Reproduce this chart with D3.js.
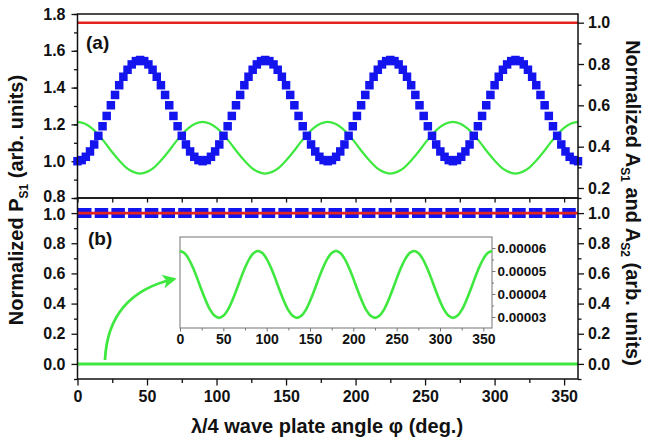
<!DOCTYPE html>
<html><head><meta charset="utf-8">
<script src="https://cdn.jsdelivr.net/npm/d3@7"></script>
<style>
body{margin:0;background:#fff;}
svg text{font-family:"Liberation Sans",Arial,sans-serif;font-weight:bold;fill:#111;}
</style></head>
<body>
<svg id="c" width="646" height="445"></svg>
<script>
// ---------- data ----------
// measurement angles for the P_S1 squares (3 deg steps)
const anglesP = [0,3,6,9,12,15,18,21,24,27,30,33,36,39,42,45,48,51,54,57,60,63,66,69,72,75,78,81,84,87,
  90,93,96,99,102,105,108,111,114,117,120,123,126,129,132,135,138,141,144,147,150,153,156,159,162,165,168,171,174,177,
  180,183,186,189,192,195,198,201,204,207,210,213,216,219,222,225,228,231,234,237,240,243,246,249,252,255,258,261,264,267,
  270,273,276,279,282,285,288,291,294,297,300,303,306,309,312,315,318,321,324,327,330,333,336,339,342,345,348,351,354,357,360];
// (a) P_S1, left axis (blue squares)
const PS1 = [1.000,1.006,1.024,1.053,1.091,1.138,1.190,1.246,1.304,1.360,1.413,1.459,1.497,1.526,1.544,1.550,1.544,1.526,1.497,1.459,1.413,1.360,1.304,1.246,1.190,1.138,1.091,1.053,1.024,1.006,
  1.000,1.006,1.024,1.053,1.091,1.138,1.190,1.246,1.304,1.360,1.413,1.459,1.497,1.526,1.544,1.550,1.544,1.526,1.497,1.459,1.413,1.360,1.304,1.246,1.190,1.138,1.091,1.053,1.024,1.006,
  1.000,1.006,1.024,1.053,1.091,1.138,1.190,1.246,1.304,1.360,1.413,1.459,1.497,1.526,1.544,1.550,1.544,1.526,1.497,1.459,1.413,1.360,1.304,1.246,1.190,1.138,1.091,1.053,1.024,1.006,
  1.000,1.006,1.024,1.053,1.091,1.138,1.190,1.246,1.304,1.360,1.413,1.459,1.497,1.526,1.544,1.550,1.544,1.526,1.497,1.459,1.413,1.360,1.304,1.246,1.190,1.138,1.091,1.053,1.024,1.006,1.000];
// angles for the smooth curves (5 deg steps)
const angles = [0,5,10,15,20,25,30,35,40,45,50,55,60,65,70,75,80,85,
  90,95,100,105,110,115,120,125,130,135,140,145,150,155,160,165,170,175,
  180,185,190,195,200,205,210,215,220,225,230,235,240,245,250,255,260,265,
  270,275,280,285,290,295,300,305,310,315,320,325,330,335,340,345,350,355,360];
// (a) A_S2, right axis (green line)
const AS2a = [0.520,0.512,0.491,0.458,0.417,0.373,0.333,0.299,0.278,0.270,0.278,0.299,0.333,0.373,0.417,0.458,0.491,0.512,
  0.520,0.512,0.491,0.458,0.417,0.373,0.333,0.299,0.278,0.270,0.278,0.299,0.333,0.373,0.417,0.458,0.491,0.512,
  0.520,0.512,0.491,0.458,0.417,0.373,0.333,0.299,0.278,0.270,0.278,0.299,0.333,0.373,0.417,0.458,0.491,0.512,
  0.520,0.512,0.491,0.458,0.417,0.373,0.333,0.299,0.278,0.270,0.278,0.299,0.333,0.373,0.417,0.458,0.491,0.512,0.520];
// constant series sampled coarsely
const coarseAngles = [0,90,180,270,360];
const AS1a = [1.0,1.0,1.0,1.0,1.0];   // (a) red, right axis
const PS2b = [1.0,1.0,1.0,1.0,1.0];   // (b) blue dashed
const AS1b = [1.0,1.0,1.0,1.0,1.0];   // (b) red
const AS2b = [0.0,0.0,0.0,0.0,0.0];   // (b) green
// inset: A_S2 in (b), magnified
const AS2inset = [5.87e-5,5.78e-5,5.53e-5,5.14e-5,4.67e-5,4.16e-5,3.69e-5,3.30e-5,3.05e-5,2.96e-5,3.05e-5,3.30e-5,3.69e-5,4.16e-5,4.67e-5,5.14e-5,5.53e-5,5.78e-5,
  5.87e-5,5.78e-5,5.53e-5,5.14e-5,4.67e-5,4.16e-5,3.69e-5,3.30e-5,3.05e-5,2.96e-5,3.05e-5,3.30e-5,3.69e-5,4.16e-5,4.67e-5,5.14e-5,5.53e-5,5.78e-5,
  5.87e-5,5.78e-5,5.53e-5,5.14e-5,4.67e-5,4.16e-5,3.69e-5,3.30e-5,3.05e-5,2.96e-5,3.05e-5,3.30e-5,3.69e-5,4.16e-5,4.67e-5,5.14e-5,5.53e-5,5.78e-5,
  5.87e-5,5.78e-5,5.53e-5,5.14e-5,4.67e-5,4.16e-5,3.69e-5,3.30e-5,3.05e-5,2.96e-5,3.05e-5,3.30e-5,3.69e-5,4.16e-5,4.67e-5,5.14e-5,5.53e-5,5.78e-5,5.87e-5];
const xTicks = [0,50,100,150,200,250,300,350];
const yTicksA = [0.8,1.0,1.2,1.4,1.6,1.8];
const yTicksAR = [0.2,0.4,0.6,0.8,1.0];
const yTicksB = [0.0,0.2,0.4,0.6,0.8,1.0];
const insetYTicks = [0.00003,0.00004,0.00005,0.00006];
const insetYLabels = ["0.00003","0.00004","0.00005","0.00006"];

// ---------- colours ----------
const BLUE="#1414ee", RED="#e3231e", GREEN="#3ee83e";

const svg = d3.select("#c");
const L=77.5, R=578, T=14, MID=198, B=379;

const x = d3.scaleLinear().domain([0,360]).range([L,R]);
const yA = d3.scaleLinear().domain([0.8,1.8]).range([MID,T]);
const yAR = d3.scaleLinear().domain([0.1516,1.042]).range([MID,T]);
const yB = d3.scaleLinear().domain([-0.1,1.1]).range([B,MID]);

function styleAxis(g, fs){
  g.selectAll(".domain").remove();
  g.selectAll("line").attr("stroke","#111").attr("stroke-width",1.3);
  g.selectAll("text").style("font-size",fs+"px");
}
const fmt1 = d3.format(".1f");

// ---------- panel (a) ----------
svg.append("g").attr("transform",`translate(${L},0)`)
  .call(d3.axisLeft(yA).tickValues(d3.range(0.8,1.801,0.1)).tickSize(3.5).tickFormat(""))
  .call(g=>styleAxis(g,16));
svg.append("g").attr("transform",`translate(${L},0)`)
  .call(d3.axisLeft(yA).tickValues(yTicksA).tickSize(6).tickPadding(6).tickFormat(fmt1))
  .call(g=>{styleAxis(g,16); g.selectAll(".tick text").filter(d=>d===0.8).attr("dy","0.2em");});
svg.append("g").attr("transform",`translate(${R},0)`)
  .call(d3.axisRight(yAR).tickValues([0.3,0.5,0.7,0.9]).tickSize(3.5).tickFormat(""))
  .call(g=>styleAxis(g,16));
svg.append("g").attr("transform",`translate(${R},0)`)
  .call(d3.axisRight(yAR).tickValues(yTicksAR).tickSize(6).tickPadding(4).tickFormat(fmt1))
  .call(g=>styleAxis(g,16));
svg.append("g").attr("transform",`translate(0,${MID})`)
  .call(d3.axisBottom(x).tickValues(d3.range(0,360,25)).tickSize(4.5).tickFormat(""))
  .call(g=>styleAxis(g,16));

const lineAR = d3.line().x(d=>x(d[0])).y(d=>yAR(d[1]));
svg.append("path").datum(coarseAngles.map((a,i)=>[a,AS1a[i]]))
  .attr("d",lineAR).attr("fill","none").attr("stroke",RED).attr("stroke-width",2.6);
svg.append("path").datum(angles.map((a,i)=>[a,AS2a[i]]))
  .attr("d",lineAR.curve(d3.curveCatmullRom)).attr("fill","none").attr("stroke",GREEN).attr("stroke-width",2.2);
const sq=8.5;
svg.append("g").selectAll("rect").data(anglesP.map((a,i)=>[a,PS1[i]])).join("rect")
  .attr("x",d=>x(d[0])-sq/2).attr("y",d=>yA(d[1])-sq/2).attr("width",sq).attr("height",sq)
  .attr("fill",BLUE);

svg.append("text").attr("x",86).attr("y",49).style("font-size","19px").text("(a)");

// ---------- panel (b) ----------
svg.append("g").attr("transform",`translate(${L},0)`)
  .call(d3.axisLeft(yB).tickValues([-0.1,0.1,0.3,0.5,0.7,0.9,1.1]).tickSize(3.5).tickFormat(""))
  .call(g=>styleAxis(g,16));
svg.append("g").attr("transform",`translate(${L},0)`)
  .call(d3.axisLeft(yB).tickValues(yTicksB).tickSize(6).tickPadding(6).tickFormat(fmt1))
  .call(g=>{styleAxis(g,16); g.selectAll(".tick text").filter(d=>d===1.0).attr("dy","0.4em");});
svg.append("g").attr("transform",`translate(${R},0)`)
  .call(d3.axisRight(yB).tickValues([-0.1,0.1,0.3,0.5,0.7,0.9,1.1]).tickSize(3.5).tickFormat(""))
  .call(g=>styleAxis(g,16));
svg.append("g").attr("transform",`translate(${R},0)`)
  .call(d3.axisRight(yB).tickValues(yTicksB).tickSize(6).tickPadding(4).tickFormat(fmt1))
  .call(g=>styleAxis(g,16));
svg.append("g").attr("transform",`translate(0,${B})`)
  .call(d3.axisBottom(x).tickValues(d3.range(25,360,50)).tickSize(4).tickFormat(""))
  .call(g=>styleAxis(g,16));
svg.append("g").attr("transform",`translate(0,${B})`)
  .call(d3.axisBottom(x).tickValues(xTicks).tickSize(6.5).tickPadding(5).tickFormat(d3.format("d")))
  .call(g=>styleAxis(g,16));

const lineB = d3.line().x(d=>x(d[0])).y(d=>yB(d[1]));
svg.append("path").datum(coarseAngles.map((a,i)=>[a,PS2b[i]]))
  .attr("d",lineB).attr("fill","none").attr("stroke",BLUE).attr("stroke-width",10)
  .attr("stroke-dasharray","13.5,3.2").attr("transform","translate(0.5,0)");
svg.append("path").datum(coarseAngles.map((a,i)=>[a,AS1b[i]]))
  .attr("d",lineB).attr("fill","none").attr("stroke",RED).attr("stroke-width",2.6);
svg.append("path").datum(coarseAngles.map((a,i)=>[a,AS2b[i]]))
  .attr("d",lineB).attr("fill","none").attr("stroke",GREEN).attr("stroke-width",3);

svg.append("text").attr("x",88).attr("y",245).style("font-size","19px").text("(b)");

svg.append("rect").attr("x",L).attr("y",T).attr("width",R-L).attr("height",MID-T)
  .attr("fill","none").attr("stroke","#111").attr("stroke-width",1.5);
svg.append("rect").attr("x",L).attr("y",MID).attr("width",R-L).attr("height",B-MID)
  .attr("fill","none").attr("stroke","#111").attr("stroke-width",1.5);

// ---------- inset ----------
const IL=180, IR=492, IT=237, IB=328;
const xi = d3.scaleLinear().domain([0,360]).range([IL,IR]);
const yi = d3.scaleLinear().domain([2.52e-5,6.48e-5]).range([IB,IT]);
svg.append("rect").attr("x",IL).attr("y",IT).attr("width",IR-IL).attr("height",IB-IT)
  .attr("fill","#fff").attr("stroke","#8a8a8a").attr("stroke-width",1.2);
svg.append("g").attr("transform",`translate(0,${IB})`)
  .call(d3.axisBottom(xi).tickValues(d3.range(25,360,50)).tickSize(2.5).tickFormat(""))
  .call(g=>{styleAxis(g,14); g.selectAll("line").attr("stroke","#777").attr("stroke-width",1);});
svg.append("g").attr("transform",`translate(0,${IB})`)
  .call(d3.axisBottom(xi).tickValues(xTicks).tickSize(3.5).tickPadding(3).tickFormat(d3.format("d")))
  .call(g=>{styleAxis(g,14); g.selectAll("line").attr("stroke","#777").attr("stroke-width",1);});
svg.append("g").attr("transform",`translate(${IR},0)`)
  .call(d3.axisRight(yi).tickValues([3.5e-5,4.5e-5,5.5e-5]).tickSize(2).tickFormat(""))
  .call(g=>{styleAxis(g,14); g.selectAll("line").attr("stroke","#777").attr("stroke-width",1);});
svg.append("g").attr("transform",`translate(${IR},0)`)
  .call(d3.axisRight(yi).tickValues(insetYTicks).tickSize(3.5).tickPadding(2).tickFormat((d,i)=>insetYLabels[i]))
  .call(g=>{styleAxis(g,13.5); g.selectAll("line").attr("stroke","#777").attr("stroke-width",1);});
svg.append("path").datum(angles.map((a,i)=>[a,AS2inset[i]]))
  .attr("d",d3.line().x(d=>xi(d[0])).y(d=>yi(d[1])).curve(d3.curveCatmullRom))
  .attr("fill","none").attr("stroke",GREEN).attr("stroke-width",2.6);

// arrow
const defs = svg.append("defs");
defs.append("marker").attr("id","ah").attr("viewBox","0 0 10 10").attr("refX",8).attr("refY",5)
  .attr("markerWidth",17).attr("markerHeight",14).attr("markerUnits","userSpaceOnUse").attr("orient","auto")
  .append("path").attr("d","M0,0 L10,5 L0,10 L2.5,5 Z").attr("fill",GREEN);
svg.append("path").attr("d","M105,360 Q108,294 174,279")
  .attr("fill","none").attr("stroke",GREEN).attr("stroke-width",2.8).attr("marker-end","url(#ah)");

// ---------- titles ----------
const lt = svg.append("text").attr("transform","translate(23,200) rotate(-90)")
  .attr("text-anchor","middle").style("font-size","20px");
lt.append("tspan").text("Normalized P");
lt.append("tspan").attr("dy",5).style("font-size","12px").text("S1");
lt.append("tspan").attr("dy",-5).text(" (arb. units)");

const rt = svg.append("text").attr("transform","translate(626,203) rotate(90)")
  .attr("text-anchor","middle").style("font-size","20px");
rt.append("tspan").text("Normalized A");
rt.append("tspan").attr("dy",5).style("font-size","12px").text("S1");
rt.append("tspan").attr("dy",-5).text(" and A");
rt.append("tspan").attr("dy",5).style("font-size","12px").text("S2");
rt.append("tspan").attr("dy",-5).text(" (arb. units)");

svg.append("text").attr("x",327).attr("y",433).attr("text-anchor","middle")
  .style("font-size","20px").text("λ/4 wave plate angle φ (deg.)");
</script>
</body></html>
